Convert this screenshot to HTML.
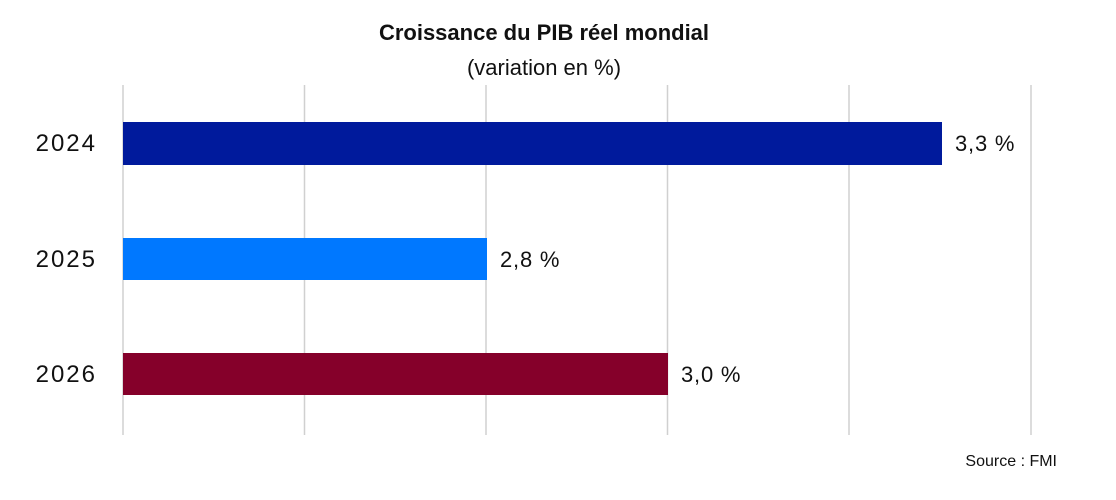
<!DOCTYPE html>
<html><head><meta charset="utf-8"><style>
body{margin:0;background:#fff;width:1116px;height:495px;overflow:hidden;font-family:"Liberation Sans",sans-serif;}
</style></head><body>
<svg width="1116" height="495" xmlns="http://www.w3.org/2000/svg" font-family="Liberation Sans, sans-serif">
<text x="544" y="40" text-anchor="middle" font-size="22" font-weight="bold" fill="#111">Croissance du PIB réel mondial</text>
<text x="544" y="75" text-anchor="middle" font-size="22" fill="#111">(variation en %)</text>
<g stroke="#d0d0d0" stroke-width="1.5">
<line x1="123" y1="85" x2="123" y2="435"/>
<line x1="304.5" y1="85" x2="304.5" y2="435"/>
<line x1="486" y1="85" x2="486" y2="435"/>
<line x1="667.5" y1="85" x2="667.5" y2="435"/>
<line x1="849" y1="85" x2="849" y2="435"/>
<line x1="1031" y1="85" x2="1031" y2="435"/>
</g>
<rect x="123" y="122" width="819" height="43" fill="#001A9C"/>
<rect x="123" y="238" width="364" height="42" fill="#0078FF"/>
<rect x="123" y="353" width="545" height="42" fill="#85002A"/>
<g font-size="24" fill="#111" letter-spacing="2">
<text x="97" y="151" text-anchor="end">2024</text>
<text x="97" y="267" text-anchor="end">2025</text>
<text x="97" y="382" text-anchor="end">2026</text>
</g>
<g font-size="22" fill="#111" letter-spacing="0.8">
<text x="955" y="151">3,3 %</text>
<text x="500" y="267">2,8 %</text>
<text x="681" y="382">3,0 %</text>
</g>
<text x="1057" y="466" text-anchor="end" font-size="16" fill="#111">Source : FMI</text>
</svg>
</body></html>
